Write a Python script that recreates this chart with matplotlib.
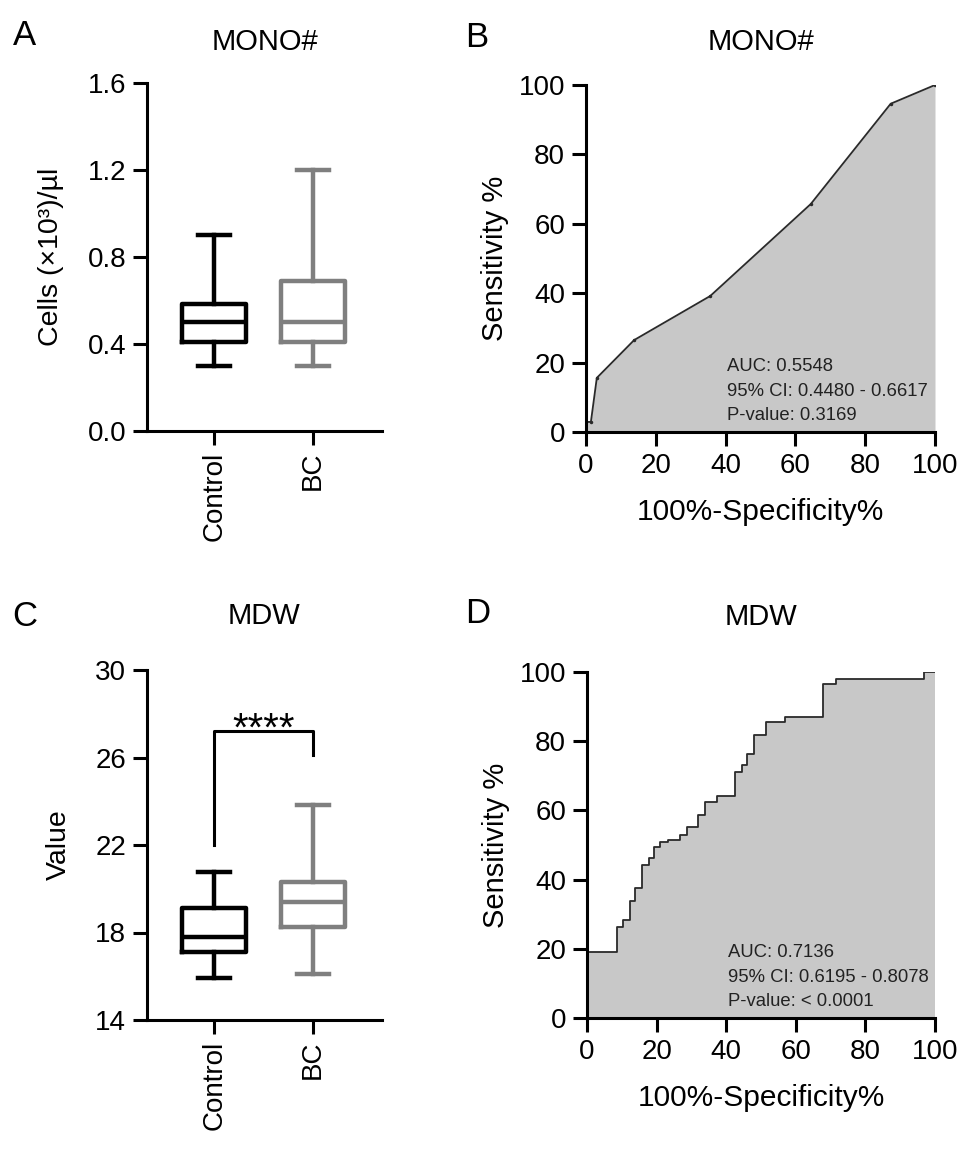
import matplotlib
matplotlib.use("Agg")
import matplotlib.pyplot as plt

plt.rcParams['font.family'] = ['Liberation Sans', 'DejaVu Sans']

# box plot summaries
groups = ['Control', 'BC']
mono_stats = {'Control': dict(whislo=0.30, q1=0.41, med=0.50, q3=0.585, whishi=0.90),
              'BC': dict(whislo=0.30, q1=0.41, med=0.50, q3=0.69, whishi=1.20)}
mdw_stats = {'Control': dict(whislo=15.9, q1=17.1, med=17.8, q3=19.1, whishi=20.75),
             'BC': dict(whislo=16.1, q1=18.25, med=19.4, q3=20.3, whishi=23.85)}

# ROC curves
mono_fpr = [0, 0, 1.4, 3.1, 13.8, 35.6, 64.4, 87.3, 100]
mono_tpr = [0, 2.9, 2.9, 15.6, 26.5, 39.2, 65.7, 94.6, 100]

mdw_fpr = [0, 0, 8.6, 10.3, 12.4, 13.9, 15.8, 17.7, 19.3, 21.1, 23.2, 26.8, 28.7, 32.0, 34.0,
           37.3, 42.6, 44.5, 46.1, 48.0, 51.5, 56.9, 67.9, 71.6, 96.7, 100]
mdw_tpr = [0, 19.2, 26.4, 28.4, 33.7, 37.5, 44.2, 46.2, 49.5, 51.0, 51.4, 52.9, 55.1, 58.7, 62.5,
           64.2, 71.2, 73.1, 76.4, 81.7, 85.6, 87.0, 96.6, 98.1, 100, 100]

mono_text = ['AUC: 0.5548', '95% CI: 0.4480 - 0.6617', 'P-value: 0.3169']
mdw_text = ['AUC: 0.7136', '95% CI: 0.6195 - 0.8078', 'P-value: < 0.0001']

colors = ['black', '#7f7f7f']
W, H = 969, 1157
fig = plt.figure(figsize=(W / 100, H / 100), dpi=100)


def px_axes(l, t, r, b):
    return fig.add_axes([l / W, 1 - b / H, (r - l) / W, (b - t) / H])


def style(ax):
    for s in ['top', 'right']:
        ax.spines[s].set_visible(False)
    for s in ['left', 'bottom']:
        ax.spines[s].set_linewidth(2.2)
    ax.tick_params(width=2.2, length=10, labelsize=20, pad=5)


def box_panel(ax, stats, yticks, ylabel, title, tpad):
    style(ax)
    for i, g in enumerate(groups):
        st = dict(stats[g])
        st['label'] = g
        ax.bxp([st], positions=[i + 1], widths=0.65, capwidths=0.33, showfliers=False,
               boxprops=dict(color=colors[i], linewidth=3.2),
               medianprops=dict(color=colors[i], linewidth=3.2),
               whiskerprops=dict(color=colors[i], linewidth=3.2),
               capprops=dict(color=colors[i], linewidth=3.2))
    ax.set_xlim(0.32, 2.7)
    ax.set_ylim(yticks[0], yticks[-1])
    ax.set_yticks(yticks)
    ax.set_xticks([1, 2])
    ax.set_xticklabels(groups, rotation=90)
    ax.set_ylabel(ylabel, fontsize=20.5, labelpad=17)
    ax.set_title(title, fontsize=21, pad=tpad)


def roc_panel(ax, fpr, tpr, lines, title, tpad, step=False):
    style(ax)
    if step:
        ax.fill_between(fpr, tpr, 0, step='post', color='#c8c8c8', lw=0)
        ax.step(fpr, tpr, where='post', color='#2a2a2a', lw=1.3)
    else:
        ax.fill_between(fpr, tpr, 0, color='#c8c8c8', lw=0)
        ax.plot(fpr, tpr, color='#2a2a2a', lw=1.3, marker='o', ms=1.5)
    ax.set_xlim(0, 100)
    ax.set_ylim(0, 100)
    ax.set_xticks(range(0, 101, 20))
    ax.set_yticks(range(0, 101, 20))
    ax.set_xlabel('100%-Specificity%', fontsize=21.5, labelpad=14)
    ax.set_ylabel('Sensitivity %', fontsize=21, labelpad=7)
    ax.set_title(title, fontsize=21, pad=tpad)
    for k, s in enumerate(lines):
        ax.text(40.5, 18.8 - 7 * k, s, fontsize=13.3, va='center', ha='left', color='#222222')
    for s in ax.spines.values():
        s.set_zorder(5)


axA = px_axes(147, 83, 382, 431)
box_panel(axA, mono_stats, [0.0, 0.4, 0.8, 1.2, 1.6], 'Cells (×10³)/µl', 'MONO#', 24)
axA.set_yticklabels(['0.0', '0.4', '0.8', '1.2', '1.6'])

axB = px_axes(586, 85, 935, 432)
roc_panel(axB, mono_fpr, mono_tpr, mono_text, 'MONO#', 25)

axC = px_axes(147, 670, 382, 1020)
box_panel(axC, mdw_stats, [14, 18, 22, 26, 30], 'Value', 'MDW', 33)
# significance bracket
axC.plot([1, 1, 2, 2], [22.0, 27.2, 27.2, 26.1], color='black', lw=2.2)
axC.text(1.5, 26.75, '****', ha='center', va='baseline', fontsize=29)

axD = px_axes(587, 672, 935, 1018)
roc_panel(axD, mdw_fpr, mdw_tpr, mdw_text, 'MDW', 34, step=True)

for lab, x, y in [('A', 13, 19), ('B', 465, 21), ('C', 12, 600), ('D', 465, 597)]:
    fig.text(x / W, 1 - y / H, lab, fontsize=25, va='top', ha='left')

fig.savefig('out.png', dpi=100)
